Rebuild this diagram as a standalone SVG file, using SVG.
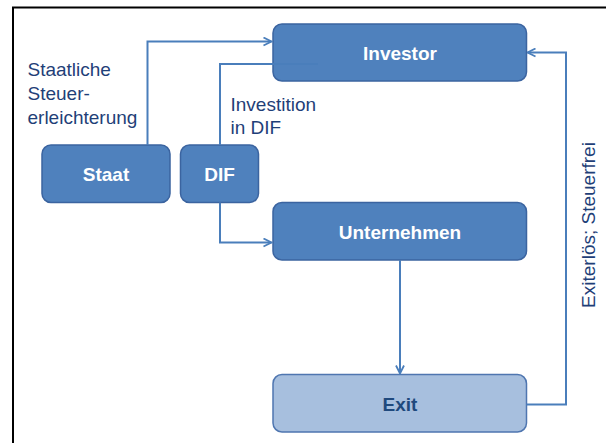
<svg xmlns="http://www.w3.org/2000/svg" width="606" height="443" viewBox="0 0 606 443">
  <style>
    .box { fill: #4F81BD; stroke: #3B64A0; stroke-width: 1.5; }
    .exit { fill: #A7BFDE; stroke: #4F76B0; stroke-width: 1.5; }
    .nt { font-family: "Liberation Sans", Arial, sans-serif; font-weight: bold; font-size: 19px; fill: #FFFFFF; text-anchor: middle; }
    .et { font-family: "Liberation Sans", Arial, sans-serif; font-weight: bold; font-size: 19px; fill: #1F497D; text-anchor: middle; }
    .lbl { font-family: "Liberation Sans", Arial, sans-serif; font-size: 19px; fill: #1F3F78; }
    .con { fill: none; stroke: #4A7EBB; stroke-width: 2; }
  </style>
  <defs>
    <marker id="arr" viewBox="0 0 10 10" refX="9" refY="5" markerWidth="10" markerHeight="10" markerUnits="userSpaceOnUse" orient="auto">
      <path d="M1,1 L9,5 L1,9" fill="none" stroke="#4A7EBB" stroke-width="1.8"/>
    </marker>
  </defs>
  <rect x="0" y="0" width="606" height="443" fill="#FFFFFF"/>
  <path d="M13,443 L13,7.5 L606,7.5" fill="none" stroke="#000000" stroke-width="2"/>

  <g id="investor">
    <rect class="box" x="273" y="24" width="253.5" height="57" rx="9"/>
    <text class="nt" x="400" y="59.5">Investor</text>
  </g>
  <g id="staat">
    <rect class="box" x="42" y="145" width="128" height="57.5" rx="9"/>
    <text class="nt" x="106" y="180.5">Staat</text>
  </g>
  <g id="dif">
    <rect class="box" x="180.5" y="145" width="78" height="57.5" rx="9"/>
    <text class="nt" x="219.5" y="180.5">DIF</text>
  </g>
  <g id="unternehmen">
    <rect class="box" x="273" y="202.5" width="253.5" height="57.5" rx="9"/>
    <text class="nt" x="400" y="238.5">Unternehmen</text>
  </g>
  <g id="exit">
    <rect class="exit" x="273" y="374.5" width="253.5" height="57.5" rx="9"/>
    <text class="et" x="400" y="410.5">Exit</text>
  </g>

  <g id="connectors">
    <path class="con" d="M147.5,145 L147.5,41.5 L271.5,41.5" marker-end="url(#arr)"/>
    <path class="con" d="M220,145 L220,64 L318,64" stroke="#4577B6"/>
    <path class="con" d="M220,202.5 L220,242.5 L271.5,242.5" marker-end="url(#arr)"/>
    <path class="con" d="M400,260 L400,373.5" marker-end="url(#arr)"/>
    <path class="con" d="M526.5,404.5 L566,404.5 L566,52.5 L527.5,52.5" marker-end="url(#arr)"/>
  </g>

  <g id="labels">
    <text class="lbl" x="27.5" y="75.5">Staatliche</text>
    <text class="lbl" x="27.5" y="99.5">Steuer-</text>
    <text class="lbl" x="27.5" y="123.5">erleichterung</text>
    <text class="lbl" x="230.5" y="110.5">Investition</text>
    <text class="lbl" x="230.5" y="134">in DIF</text>
    <text class="lbl" transform="translate(595,225) rotate(-90)" text-anchor="middle">Exiterlös; Steuerfrei</text>
  </g>
</svg>
